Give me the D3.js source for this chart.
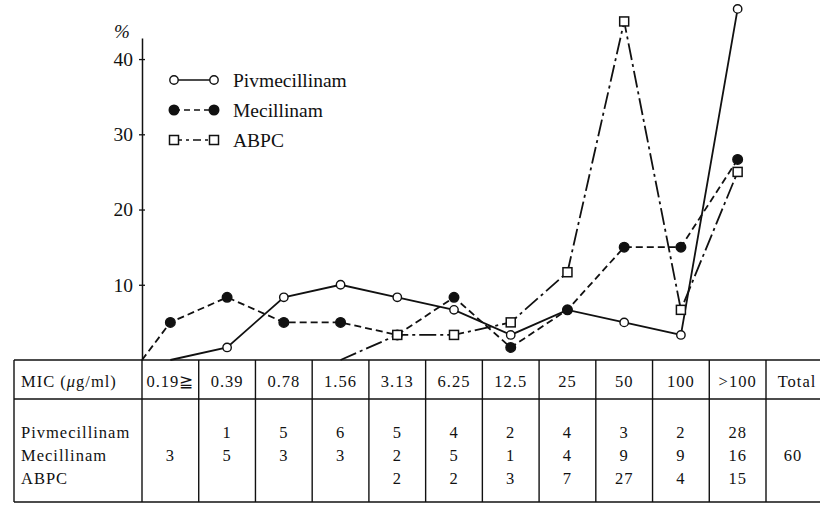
<!DOCTYPE html>
<html>
<head>
<meta charset="utf-8">
<script src="https://cdn.jsdelivr.net/npm/d3@7"></script>
<style>
  body { margin: 0; background: #fff; }
  svg { display: block; }
  text { font-family: "Liberation Serif", "DejaVu Serif", serif; fill: #111; }
</style>
</head>
<body>
<svg id="chart" width="820" height="512"></svg>
<script>
// MIC classes (table columns)
const categories = ["0.19≧", "0.39", "0.78", "1.56", "3.13", "6.25", "12.5", "25", "50", "100", ">100"];
// number of strains per MIC class, null = empty cell
const pivmecillinam = [null, 1, 5, 6, 5, 4, 2, 4, 3, 2, 28];
const mecillinam    = [3, 5, 3, 3, 2, 5, 1, 4, 9, 9, 16];
const abpc          = [null, null, null, null, 2, 2, 3, 7, 27, 4, 15];
const total = 60;
const yTicks = [10, 20, 30, 40];

const series = [
  { name: "Pivmecillinam", counts: pivmecillinam, dash: null, marker: "open" },
  { name: "Mecillinam", counts: mecillinam, dash: "7,4", marker: "filled" },
  { name: "ABPC", counts: abpc, dash: "17,4,3,4", marker: "square" }
];

const svg = d3.select("#chart");
svg.append("rect").attr("width", 820).attr("height", 512).attr("fill", "#fff");

const plotLeft = 142, plotRight = 766, tableTop = 360, headBottom = 399, tableBottom = 502;

const x = d3.scaleBand().domain(categories).range([plotLeft, plotRight]);
const cx = c => x(c) + x.bandwidth() / 2;
const y = d3.scaleLinear().domain([0, 42.8]).range([tableTop, 38]);

// y axis
const yAxis = svg.append("g")
  .attr("transform", `translate(${plotLeft},0)`)
  .call(d3.axisLeft(y).tickValues(yTicks).tickSize(4).tickPadding(5).tickSizeOuter(0));
yAxis.select(".domain").attr("stroke", "#111").attr("stroke-width", 1.5);
yAxis.selectAll(".tick line").attr("stroke", "#111").attr("stroke-width", 1.3).attr("x2", 3).attr("x1", -3);
yAxis.selectAll(".tick text").attr("font-size", 19.5).attr("fill", "#111");
svg.append("text").attr("x", 114).attr("y", 38).attr("font-size", 19).attr("font-style", "italic").text("%");

// lines
const line = d3.line().x(d => d.x).y(d => y(d.v));
series.forEach(s => {
  const first = s.counts.findIndex(v => v != null);
  const pts = [];
  pts.push({ x: first > 0 ? cx(categories[first - 1]) : plotLeft, v: 0 });
  s.counts.forEach((v, i) => { if (i >= first) pts.push({ x: cx(categories[i]), v: (v || 0) / total * 100, c: v }); });
  s.pts = pts;
  svg.append("path").datum(pts)
    .attr("d", line).attr("fill", "none").attr("stroke", "#111").attr("stroke-width", 1.8)
    .attr("stroke-dasharray", s.dash);
});

function drawMarker(g, type, px, py) {
  if (type === "square") {
    g.append("rect").attr("x", px - 4.5).attr("y", py - 4.5).attr("width", 9).attr("height", 9)
      .attr("fill", "#fff").attr("stroke", "#111").attr("stroke-width", 1.5);
  } else {
    g.append("circle").attr("cx", px).attr("cy", py).attr("r", type === "filled" ? 4.8 : 4.2)
      .attr("fill", type === "filled" ? "#111" : "#fff").attr("stroke", "#111").attr("stroke-width", 1.4);
  }
}
series.forEach(s => {
  const g = svg.append("g");
  s.pts.filter(p => p.c != null).forEach(p => drawMarker(g, s.marker, p.x, y(p.v)));
});

// legend
const legY = [80, 110, 140];
const legDash = [null, "6,4", "8,4,3,4"];
series.forEach((s, i) => {
  const g = svg.append("g");
  g.append("line").attr("x1", 174).attr("x2", 214).attr("y1", legY[i]).attr("y2", legY[i])
    .attr("stroke", "#111").attr("stroke-width", 1.7).attr("stroke-dasharray", legDash[i]);
  drawMarker(g, s.marker, 174, legY[i]);
  drawMarker(g, s.marker, 214, legY[i]);
  g.append("text").attr("x", 233).attr("y", legY[i] + 7).attr("font-size", 19.5).text(s.name);
});

// table
const tbl = svg.append("g").attr("stroke", "#111").attr("stroke-width", 1.4);
tbl.append("line").attr("x1", 14).attr("x2", 820).attr("y1", tableTop).attr("y2", tableTop);
tbl.append("line").attr("x1", 14).attr("x2", 820).attr("y1", headBottom).attr("y2", headBottom);
tbl.append("line").attr("x1", 14).attr("x2", 820).attr("y1", tableBottom).attr("y2", tableBottom);
const vlines = [14, plotLeft].concat(categories.map(c => x(c) + x.bandwidth()));
vlines.forEach(vx => tbl.append("line").attr("x1", vx).attr("x2", vx).attr("y1", tableTop).attr("y2", tableBottom));

const fs = 16.5, ls = 1;
const head = svg.append("text").attr("x", 21).attr("y", 387).attr("font-size", fs).attr("letter-spacing", ls);
head.append("tspan").text("MIC (");
head.append("tspan").attr("font-style", "italic").text("μ");
head.append("tspan").text("g/ml)");
svg.selectAll(".hd").data(categories).join("text").attr("class", "hd")
  .attr("x", d => cx(d)).attr("y", 387).attr("font-size", fs).attr("letter-spacing", ls)
  .attr("text-anchor", "middle").text(d => d);
svg.append("text").attr("x", 797).attr("y", 387).attr("font-size", fs).attr("letter-spacing", ls)
  .attr("text-anchor", "middle").text("Total");

const rowY = [438, 461, 484];
series.forEach((s, i) => {
  svg.append("text").attr("x", 21).attr("y", rowY[i]).attr("font-size", fs).attr("letter-spacing", ls).text(s.name);
  s.counts.forEach((v, j) => {
    if (v == null) return;
    svg.append("text").attr("x", cx(categories[j])).attr("y", rowY[i]).attr("font-size", fs)
      .attr("letter-spacing", ls).attr("text-anchor", "middle").text(v);
  });
});
svg.append("text").attr("x", 793).attr("y", rowY[1]).attr("font-size", fs).attr("letter-spacing", ls)
  .attr("text-anchor", "middle").text(total);
</script>
</body>
</html>
